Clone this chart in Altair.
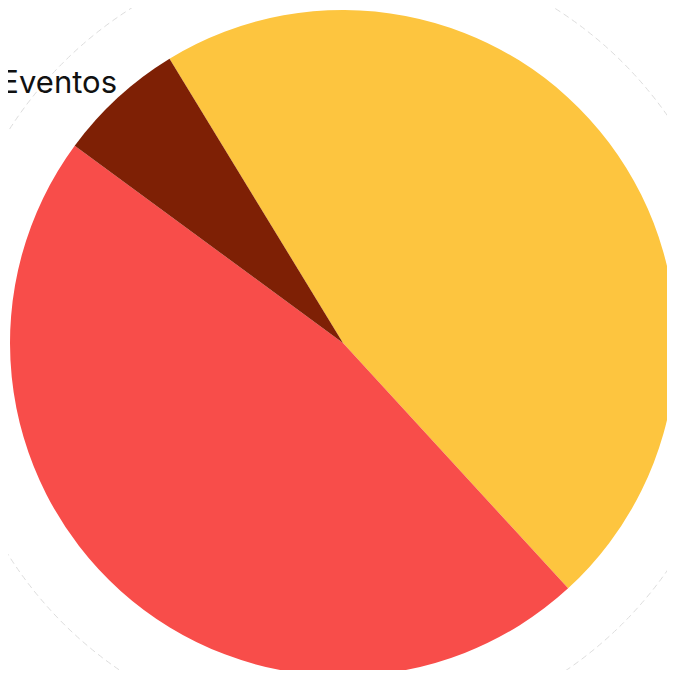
import altair as alt
import pandas as pd
import math

categories = ["Privada", "Pública", "Eventos"]
values = [47.0, 47.0, 6.2]
colors = ["#FDC53F", "#F84D4A", "#7E2005"]
order = [0, 1, 2]

df = pd.DataFrame({"categoria": categories, "valor": values, "orden": order})

start = math.radians(-31.4)
cx, cy, R = 335, 335, 333

pie = alt.Chart(df).mark_arc(outerRadius=R, stroke=None).encode(
    theta=alt.Theta("valor:Q", stack=True, scale=alt.Scale(range=[start, start + 2 * math.pi])),
    color=alt.Color("categoria:N", scale=alt.Scale(domain=categories, range=colors), legend=None),
    order=alt.Order("orden:Q"),
    x=alt.value(cx),
    y=alt.value(cy),
)

ring = alt.Chart(pd.DataFrame({"a": [1]})).mark_point(
    shape="circle", filled=False, stroke="#d0d0d0", strokeWidth=1, strokeDash=[6, 4],
    size=math.pi * 447 ** 2,
).encode(x=alt.value(cx), y=alt.value(cy))

lab_privada = alt.Chart(pd.DataFrame({"t": ["Privada"]})).mark_text(
    align="right", baseline="alphabetic", fontSize=40, font="Inter", color="#111111"
).encode(text="t:N", x=alt.value(612), y=alt.value(-2))

lab_eventos = alt.Chart(pd.DataFrame({"t": ["Eventos"]})).mark_text(
    align="right", baseline="alphabetic", fontSize=31, font="Inter", color="#111111"
).encode(text="t:N", x=alt.value(109), y=alt.value(85))

chart = alt.layer(ring, pie, lab_privada, lab_eventos).properties(
    width=659, height=662, padding=0, autosize=alt.AutoSizeParams(type="none")
).configure_view(stroke=None)

chart.save("out.html", embed_options={"renderer": "svg", "actions": False})
